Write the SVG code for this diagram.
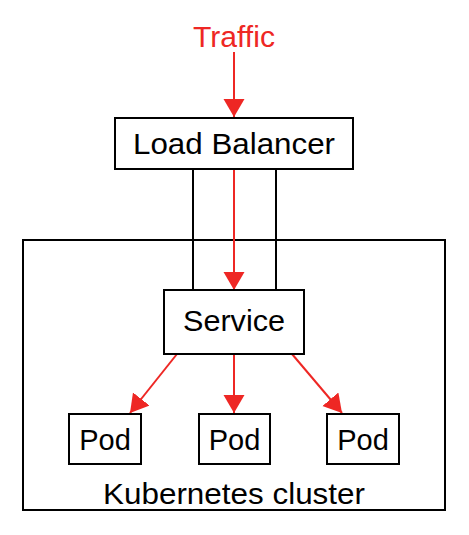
<svg xmlns="http://www.w3.org/2000/svg" width="469" height="535" viewBox="0 0 469 535">
<style>
.box{fill:#fff;stroke:#000;stroke-width:2}
.lbl{font-family:"Liberation Sans",Arial,sans-serif;font-size:29px;fill:#000;text-anchor:middle}
.red{stroke:#ee2724;stroke-width:2;fill:none}
.blk{stroke:#000;stroke-width:2;fill:none}
</style>
<defs>
<marker id="ah" markerUnits="userSpaceOnUse" markerWidth="20" markerHeight="22" refX="18" refY="10.5" orient="auto" viewBox="0 0 20 22">
<path d="M0,0 L18,10.5 L0,21 z" fill="#ee2724"/>
</marker>
</defs>
<g id="cluster">
<rect class="box" x="23" y="240" width="422" height="270"/>
<text class="lbl" x="234" y="504" textLength="262" lengthAdjust="spacingAndGlyphs">Kubernetes cluster</text>
</g>
<g id="connectors">
<line class="blk" x1="193" y1="169" x2="193" y2="290"/>
<line class="blk" x1="276" y1="169" x2="276" y2="290"/>
<line class="red" x1="234" y1="52" x2="234" y2="117" marker-end="url(#ah)"/>
<line class="red" x1="234" y1="167" x2="234" y2="290" marker-end="url(#ah)"/>
<line class="red" x1="177" y1="354" x2="130" y2="413" marker-end="url(#ah)"/>
<line class="red" x1="234" y1="354" x2="234" y2="413" marker-end="url(#ah)"/>
<line class="red" x1="292" y1="354" x2="342" y2="413" marker-end="url(#ah)"/>
</g>
<g id="traffic">
<text class="lbl" x="234" y="47" style="fill:#ee2724" textLength="82" lengthAdjust="spacingAndGlyphs">Traffic</text>
</g>
<g id="loadbalancer">
<rect class="box" x="115" y="118" width="238" height="51"/>
<text class="lbl" x="234" y="154" textLength="202" lengthAdjust="spacingAndGlyphs">Load Balancer</text>
</g>
<g id="service">
<rect class="box" x="164" y="290" width="140" height="64"/>
<text class="lbl" x="234" y="331" textLength="102" lengthAdjust="spacingAndGlyphs">Service</text>
</g>
<g id="pod1">
<rect class="box" x="69" y="414" width="72" height="50"/>
<text class="lbl" x="105" y="450">Pod</text>
</g>
<g id="pod2">
<rect class="box" x="199" y="414" width="71" height="50"/>
<text class="lbl" x="234.5" y="450">Pod</text>
</g>
<g id="pod3">
<rect class="box" x="327" y="414" width="72" height="50"/>
<text class="lbl" x="363" y="450">Pod</text>
</g>
</svg>
